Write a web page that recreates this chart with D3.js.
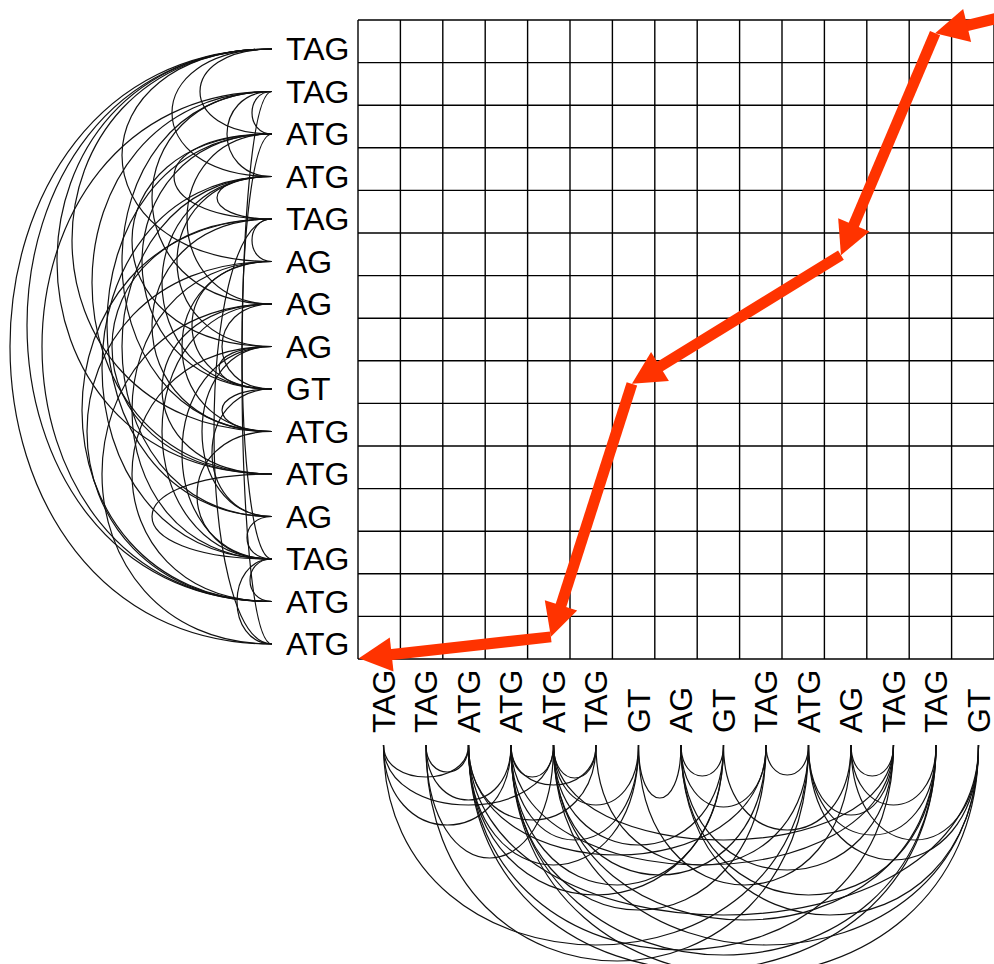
<!DOCTYPE html>
<html>
<head>
<meta charset="utf-8">
<script src="https://cdn.jsdelivr.net/npm/d3@7"></script>
<style>
  html, body { margin: 0; padding: 0; background: #fff; }
  svg { display: block; }
</style>
</head>
<body>
<svg id="chart" width="994" height="964"></svg>
<script>
// ---------------- data ----------------
const rowLabels = ["TAG","TAG","ATG","ATG","TAG","AG","AG","AG","GT","ATG","ATG","AG","TAG","ATG","ATG"];
const colLabels = ["TAG","TAG","ATG","ATG","ATG","TAG","GT","AG","GT","TAG","ATG","AG","TAG","TAG","GT"];

// arcs between row signals (left side): [from, to, bulge in px]
const rowArcs = [
  [0,2,72],[0,3,100],[0,5,150],[0,9,200],[0,10,215],[0,13,245],[0,14,262],
  [1,2,20],[1,3,45],[1,6,120],[1,9,150],[1,10,180],[1,13,230],[1,14,30],
  [4,9,120],[4,10,160],[4,13,190],[4,14,58],[12,13,22],[12,14,35],
  [2,4,98],[2,6,85],[2,7,140],[2,8,130],[2,11,165],[2,12,30],
  [3,4,55],[3,7,95],[3,8,110],[3,11,150],[3,12,170],[9,12,75],[10,12,120],
  [8,11,60],[8,9,50],[4,5,20],
  [5,8,80],[5,9,90],[5,12,140],[5,13,185],
  [6,8,50],[6,10,110],[6,12,110],[6,14,170],
  [7,8,53],[7,11,70],[7,12,90],[7,13,140],[11,12,25]
];
// arcs between column signals (bottom): [from, to, bulge in px]
const colArcs = [
  [0,2,32],[0,3,80],[0,4,60],[0,10,200],
  [1,2,27],[1,3,55],[1,4,113],[1,10,216],
  [5,10,120],[9,10,30],[3,4,32],
  [2,5,75],[2,6,120],[2,8,150],[2,9,110],[2,12,205],[2,13,225],[2,14,170],
  [3,5,40],[3,6,95],[3,8,140],[3,9,165],[3,12,120],[3,13,210],[3,14,230],
  [4,5,33],[4,6,60],[4,8,100],[4,9,130],[4,12,95],[4,13,175],[4,14,200],
  [10,12,70],[10,13,90],[10,14,115],
  [6,7,53],[6,11,140],[8,11,85],
  [7,8,31],[7,9,62],[7,12,125],[7,13,150],[7,14,170],[11,12,31],[11,13,60],[11,14,95]
];
// traceback path through the matrix (column, row) in grid units
const pathCol = [15.61, 13.61, 11.39, 6.46, 4.55, 0.02];
const pathRow = [-0.17, 0.31, 5.52, 8.54, 14.48, 14.98];

// ---------------- layout ----------------
const svg = d3.select("#chart");
const n = 15;
const x = d3.scaleLinear().domain([0, n]).range([358, 994]);
const y = d3.scaleLinear().domain([0, n]).range([20, 659]);
const rowY = d3.scalePoint().domain(d3.range(n)).range([49, 644]);
const colX = d3.scalePoint().domain(d3.range(n)).range([383.5, 978.5]);
const arcX = 272, arcY = 745;
const FONT = "'Liberation Sans', Arial, Helvetica, sans-serif";

// grid
const grid = svg.append("g").attr("stroke", "#000").attr("stroke-width", 1.4);
grid.selectAll("line.v").data(d3.range(n + 1)).join("line")
  .attr("class", "v")
  .attr("x1", d => x(d)).attr("x2", d => x(d))
  .attr("y1", y(0)).attr("y2", y(n));
grid.selectAll("line.h").data(d3.range(n + 1)).join("line")
  .attr("class", "h")
  .attr("x1", x(0)).attr("x2", x(n))
  .attr("y1", d => y(d)).attr("y2", d => y(d));

// row labels
svg.append("g").selectAll("text").data(rowLabels).join("text")
  .attr("x", 286).attr("y", (d, i) => rowY(i))
  .attr("dominant-baseline", "central")
  .attr("font-family", FONT).attr("font-size", 32).attr("fill", "#000")
  .text(d => d);

// column labels (rotated)
svg.append("g").selectAll("text").data(colLabels).join("text")
  .attr("transform", (d, i) => `translate(${colX(i)},733) rotate(-90)`)
  .attr("dominant-baseline", "central")
  .attr("text-anchor", "start")
  .attr("font-family", FONT).attr("font-size", 32).attr("fill", "#000")
  .text(d => d);

// left arcs (cubic curves, horizontal tangents at the labels)
svg.append("g").attr("fill", "none").attr("stroke", "#111").attr("stroke-width", 1.2)
  .selectAll("path").data(rowArcs).join("path")
  .attr("d", ([a, b, d]) => {
    const y1 = rowY(a), y2 = rowY(b), h = d / 0.75;
    return `M${arcX},${y1} C${arcX - h},${y1} ${arcX - h},${y2} ${arcX},${y2}`;
  });

// bottom arcs (cubic curves, vertical tangents at the labels)
svg.append("g").attr("fill", "none").attr("stroke", "#111").attr("stroke-width", 1.2)
  .selectAll("path").data(colArcs).join("path")
  .attr("d", ([a, b, d]) => {
    const x1 = colX(a), x2 = colX(b), h = d / 0.75;
    return `M${x1},${arcY} C${x1},${arcY + h} ${x2},${arcY + h} ${x2},${arcY}`;
  });

// traceback arrows
const RED = "#ff3300";
const pts = pathCol.map((c, i) => [x(c), y(pathRow[i])]);
const arrows = svg.append("g");
const HEAD_L = 33, HEAD_W = 17;
for (let i = 0; i < pts.length - 1; i++) {
  const [sx, sy] = pts[i], [ex, ey] = pts[i + 1];
  const dx = ex - sx, dy = ey - sy, len = Math.hypot(dx, dy);
  const ux = dx / len, uy = dy / len, px = -uy, py = ux;
  const bx = ex - ux * HEAD_L, by = ey - uy * HEAD_L;
  arrows.append("line")
    .attr("x1", sx).attr("y1", sy)
    .attr("x2", ex - ux * HEAD_L * 0.6).attr("y2", ey - uy * HEAD_L * 0.6)
    .attr("stroke", RED).attr("stroke-width", 11).attr("stroke-linecap", "butt");
  arrows.append("path")
    .attr("d", `M${ex},${ey} L${bx + px * HEAD_W},${by + py * HEAD_W} L${bx - px * HEAD_W},${by - py * HEAD_W} Z`)
    .attr("fill", RED);
}
</script>
</body>
</html>
